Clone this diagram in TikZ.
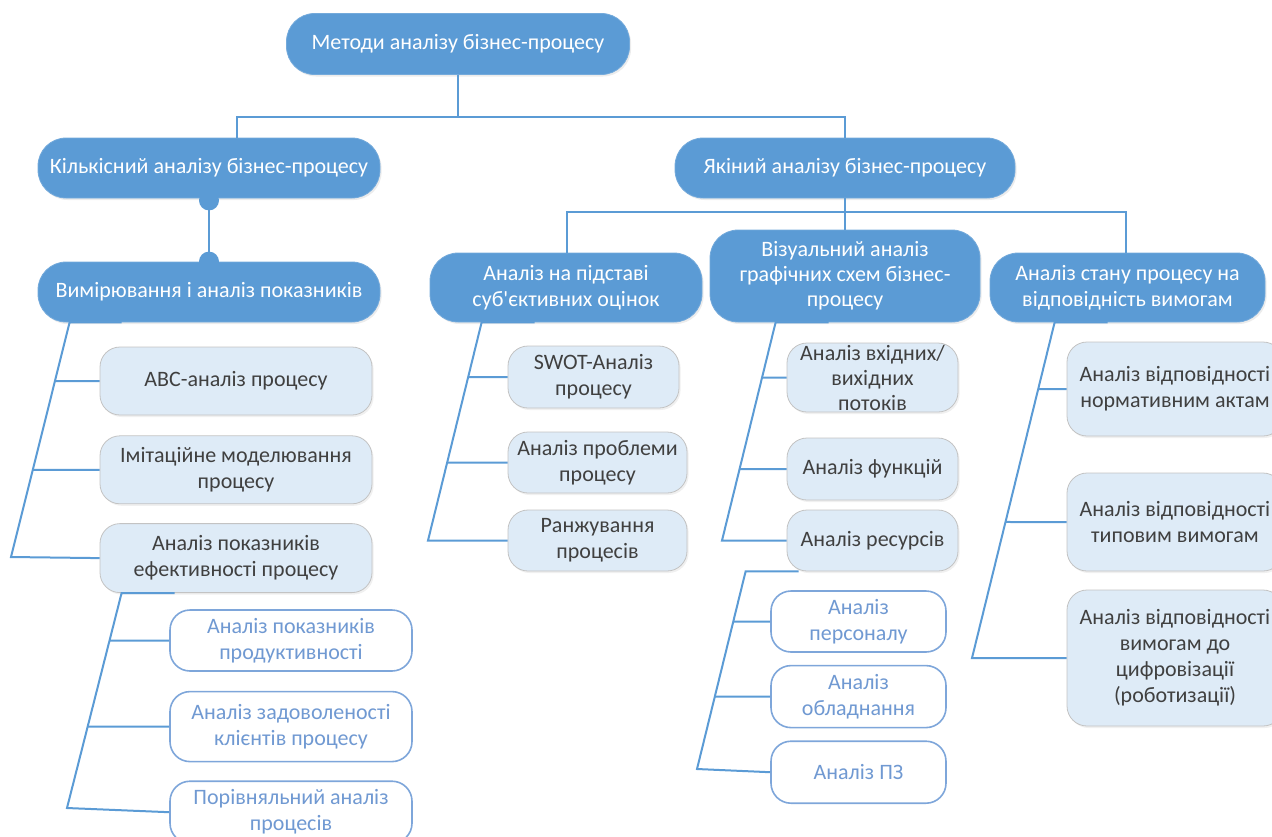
\documentclass[tikz,border=0pt]{standalone}
\usepackage{fontspec}
\setmainfont{Carlito}[Ligatures=TeXOff]
\usepackage{tikz}
\usetikzlibrary{positioning,shadows}

\definecolor{darkblue}{HTML}{5B9BD5}
\definecolor{paleblue}{HTML}{DEEBF7}
\definecolor{framegray}{HTML}{C3C3C3}
\definecolor{textgray}{HTML}{404040}
\definecolor{softblue}{HTML}{7EA6DA}
\definecolor{softtext}{HTML}{7099D2}

\begin{document}
\begin{tikzpicture}[
    x=0.5pt, y=-0.5pt,
    every node/.style={
        align=center,
        inner sep=2pt,
        font=\fontsize{11}{13}\selectfont
    },
    mainbox/.style={
        fill=darkblue, draw=darkblue!85!white, text=white,
        rounded corners=14pt,
        drop shadow={opacity=0.15, shadow xshift=0.8pt, shadow yshift=-1pt}
    },
    itembox/.style={
        fill=paleblue, draw=framegray, text=textgray,
        rounded corners=10pt,
        drop shadow={opacity=0.12, shadow xshift=0.8pt, shadow yshift=-1pt}
    },
    subitembox/.style={
        fill=white, draw=softblue, text=softtext, line width=0.8pt,
        rounded corners=10pt
    },
    link/.style={draw=darkblue, line width=1pt}
]
\useasboundingbox (0,0) rectangle (1272,836);

% top levels
\node (top) [mainbox, minimum width=171.5pt, minimum height=30.5pt] at (458,44) {Методи аналізу бізнес-процесу};
\node (kil) [mainbox, minimum width=171pt, minimum height=30pt] at (209,168) {Кількісний аналізу бізнес-процесу};
\node (vim) [mainbox, minimum width=171pt, minimum height=30pt] at (209,292) {Вимірювання і аналіз показників};
\node (yak) [mainbox, minimum width=170pt, minimum height=30pt] at (845,168) {Якіний аналізу бізнес-процесу};
\node (sub) [mainbox, minimum width=136pt, minimum height=34.5pt] at (566,287.5) {Аналіз на підставі\\суб'єктивних оцінок};
\node (vis) [mainbox, minimum width=135pt, minimum height=46pt, font=\fontsize{11}{12.5}\selectfont] at (845,276) {Візуальний аналіз\\графічних схем бізнес-\\процесу};
\node (stan) [mainbox, minimum width=137.5pt, minimum height=34.5pt] at (1127.5,287.5) {Аналіз стану процесу на\\відповідність вимогам};

% quantitative branch
\node (abc) [itembox, minimum width=136pt, minimum height=34pt] at (236,381) {ABC-аналіз процесу};
\node (imit) [itembox, minimum width=136pt, minimum height=34pt, below=10pt of abc] {Імітаційне моделювання\\процесу};
\node (pok) [itembox, minimum width=136pt, minimum height=34.5pt, below=9.5pt of imit] {Аналіз показників\\ефективності процесу};
\node (prod) [subitembox, minimum width=121pt, minimum height=30.5pt] at (291,640.5) {Аналіз показників\\продуктивності};
\node (zad) [subitembox, minimum width=121pt, minimum height=35pt, below=9.5pt of prod] {Аналіз задоволеності\\клієнтів процесу};
\node (por) [subitembox, minimum width=121pt, minimum height=31pt, below=9pt of zad] {Порівняльний аналіз\\процесів};

% subjective branch
\node (swot) [itembox, minimum width=85.5pt, minimum height=31pt] at (593.5,377) {SWOT-Аналіз\\процесу};
\node (probl) [itembox, minimum width=89.5pt, minimum height=30.5pt] at (597.5,462.5) {Аналіз проблеми\\процесу};
\node (ranzh) [itembox, minimum width=89.5pt, minimum height=30.5pt] at (597.5,540.5) {Ранжування\\процесів};

% visual branch
\node (vkh) [itembox, minimum width=85.5pt, minimum height=34.5pt, inner ysep=-1pt, font=\fontsize{11}{12.5}\selectfont] at (872.5,377.5) {Аналіз вхідних/\\вихідних\\потоків};
\node (fun) [itembox, minimum width=85.5pt, minimum height=31pt] at (872.5,469) {Аналіз функцій};
\node (res) [itembox, minimum width=85.5pt, minimum height=30.5pt] at (872.5,540.5) {Аналіз ресурсів};
\node (pers) [subitembox, minimum width=87.5pt, minimum height=30.5pt] at (858.5,621.5) {Аналіз\\персоналу};
\node (obl) [subitembox, minimum width=87.5pt, minimum height=31pt, below=6pt of pers] {Аналіз\\обладнання};
\node (pz) [subitembox, minimum width=87.5pt, minimum height=31pt, below=6pt of obl] {Аналіз ПЗ};

% compliance branch
\node (norm) [itembox, minimum width=108pt, minimum height=47pt] at (1175,389) {Аналіз відповідності\\нормативним актам};
\node (typ) [itembox, minimum width=108pt, minimum height=49pt] at (1175,522) {Аналіз відповідності\\типовим вимогам};
\node (tsyfr) [itembox, minimum width=108pt, minimum height=68pt] at (1175,658) {Аналіз відповідності\\вимогам до\\цифровізації\\(роботизації)};

% tree links
\draw[link] (top.south) -- ++(0,42) -| ([xshift=14pt]kil.north);
\draw[link] (top.south) -- ++(0,42) -| (yak.north);
\draw[link] (yak.south) -- ++(0,14) -| ([xshift=0.5pt]sub.north);
\draw[link] (yak.south) -- (vis.north);
\draw[link] (yak.south) -- ++(0,14) -| ([xshift=-1pt]stan.north);

\draw[link] (kil.south) -- (vim.north);
\fill[darkblue] ([yshift=-1pt]kil.south) circle (5pt) (vim.north) circle (5pt);

% slanted lists
\coordinate (vimtop) at ([xshift=16pt]vim.south west);
\coordinate (vimbot) at (11,557);
\draw[link] ([xshift=42pt]vim.south west) -- (vimtop) -- (vimbot) -- (pok.west);
\foreach \c in {abc,imit}
    \draw[link] (intersection of vimtop--vimbot and \c.west--\c.east) -- (\c.west);

\coordinate (poktop) at ([xshift=11pt]pok.south west);
\coordinate (pokbot) at (67,808);
\draw[link] ([xshift=37.5pt]pok.south west) -- (poktop) -- (pokbot) -- (por.west);
\foreach \c in {prod,zad}
    \draw[link] (intersection of poktop--pokbot and \c.west--\c.east) -- (\c.west);

\coordinate (subtop) at ([xshift=26pt]sub.south west);
\coordinate (subbot) at (428,540.5);
\draw[link] ([xshift=52.5pt]sub.south west) -- (subtop) -- (subbot) -- (ranzh.west);
\foreach \c in {swot,probl}
    \draw[link] (intersection of subtop--subbot and \c.west--\c.east) -- (\c.west);

\coordinate (vistop) at ([xshift=33pt]vis.south west);
\coordinate (visbot) at (722,540.5);
\draw[link] ([xshift=59.5pt]vis.south west) -- (vistop) -- (visbot) -- (res.west);
\foreach \c in {vkh,fun}
    \draw[link] (intersection of vistop--visbot and \c.west--\c.east) -- (\c.west);

\coordinate (restop) at ([xshift=-20.5pt]res.south west);
\coordinate (resbot) at (697,769);
\draw[link] ([xshift=6pt]res.south west) -- (restop) -- (resbot) -- (pz.west);
\foreach \c in {pers,obl}
    \draw[link] (intersection of restop--resbot and \c.west--\c.east) -- (\c.west);

\coordinate (stantop) at ([xshift=32.5pt]stan.south west);
\coordinate (stanbot) at (972,658);
\draw[link] ([xshift=59pt]stan.south west) -- (stantop) -- (stanbot) -- (tsyfr.west);
\foreach \c in {norm,typ}
    \draw[link] (intersection of stantop--stanbot and \c.west--\c.east) -- (\c.west);

\end{tikzpicture}
\end{document}
